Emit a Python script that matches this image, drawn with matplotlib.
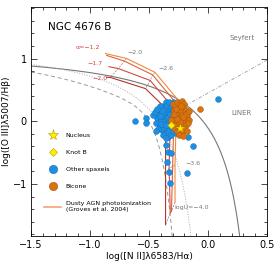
import numpy as np
import matplotlib

matplotlib.use("Agg")
import matplotlib.pyplot as plt
from matplotlib.lines import Line2D
from matplotlib.ticker import MultipleLocator

# ---------- data ---------- #
other_x = [-0.43, -0.44, -0.42, -0.41, -0.40, -0.40, -0.39, -0.38, -0.38, -0.37,
           -0.37, -0.36, -0.36, -0.35, -0.35, -0.34, -0.34, -0.33, -0.33, -0.32,
           -0.32, -0.31, -0.31, -0.30, -0.30, -0.29, -0.29, -0.28, -0.27, -0.27,
           -0.41, -0.39, -0.37, -0.35, -0.33, -0.40, -0.42, -0.38, -0.36, -0.33,
           -0.31, -0.30, -0.28, -0.26, -0.34, -0.36, -0.39, -0.41, -0.32, -0.30,
           -0.53, -0.53, -0.62, 0.085, -0.17, -0.13, -0.36, -0.34, -0.31, -0.35,
           -0.33, -0.18, -0.32, -0.47, -0.25, -0.45, -0.44, -0.43]
other_y = [0.05, -0.02, 0.12, -0.08, 0.18, 0.02, -0.14, 0.08, 0.24, -0.04,
           -0.20, 0.14, 0.30, 0.03, -0.10, 0.20, -0.25, 0.09, -0.16, 0.26,
           -0.02, 0.16, -0.22, 0.05, 0.31, -0.10, 0.22, 0.12, 0.28, -0.18,
           0.25, 0.10, 0.20, 0.26, 0.00, -0.04, -0.12, -0.22, -0.27, 0.30,
           0.22, -0.15, 0.00, 0.20, 0.06, -0.06, 0.16, 0.08, 0.12, 0.18,
           0.05, -0.03, 0.00, 0.35, -0.25, -0.40, -0.38, -0.49, -0.51, -0.65,
           -0.81, -0.83, -0.98, 0.10, 0.29, 0.15, -0.15, 0.20]

bicone_x = [-0.30, -0.28, -0.26, -0.24, -0.22, -0.20, -0.29, -0.27, -0.25, -0.23,
            -0.21, -0.19, -0.17, -0.30, -0.28, -0.26, -0.24, -0.22, -0.20, -0.18,
            -0.16, -0.29, -0.27, -0.25, -0.23, -0.21, -0.19, -0.17, -0.28, -0.26,
            -0.24, -0.22, -0.20, -0.18, -0.25, -0.21, -0.29, -0.23, -0.19, -0.27,
            -0.16, -0.07, -0.31, -0.24, -0.21, -0.26]
bicone_y = [0.28, 0.24, 0.30, 0.27, 0.32, 0.28, 0.18, 0.14, 0.20, 0.16,
            0.22, 0.18, 0.14, 0.08, 0.04, 0.10, 0.06, 0.10, 0.04, 0.08,
            0.02, -0.02, -0.06, -0.02, -0.08, -0.02, -0.06, -0.03, -0.12, -0.16,
            -0.12, -0.18, -0.12, -0.15, -0.22, -0.24, 0.12, 0.24, 0.12, 0.20,
            0.17, 0.19, 0.02, 0.00, 0.06, 0.04]

nucleus = (-0.24, -0.11)
knot_b = (-0.31, -0.06)

# Groves et al. 2004 dusty AGN grid (one line per power-law index)
alphas = ["−1.2", "−1.4", "−1.7", "−2.0"]
grid_x = [
    [-0.87, -0.69, -0.45, -0.25, -0.27, -0.28, -0.28],
    [-0.86, -0.71, -0.47, -0.28, -0.29, -0.30, -0.31],
    [-0.84, -0.76, -0.49, -0.32, -0.32, -0.33, -0.32],
    [-0.86, -0.83, -0.53, -0.36, -0.36, -0.36, -0.36],
]
grid_y = [
    [1.08, 1.00, 0.78, 0.33, 0.05, -0.70, -1.29],
    [1.05, 0.96, 0.74, 0.31, 0.04, -0.72, -1.44],
    [0.87, 0.84, 0.65, 0.27, 0.02, -0.75, -1.46],
    [0.70, 0.70, 0.52, 0.21, -0.02, -0.85, -1.65],
]
grid_colors = ["#f08a3c", "#e0603c", "#d24a3c", "#b8322c"]

# ---------- figure ---------- #
fig = plt.figure(figsize=(2.75, 2.62), dpi=100)
ax = fig.add_axes([0.113, 0.099, 0.858, 0.874])

# classification lines
x1 = np.linspace(-1.5, 0.46, 400)
ax.plot(x1, 0.61 / (x1 - 0.47) + 1.19, color="#777777", lw=0.8)  # Kewley 2001
x2 = np.linspace(-1.5, 0.04, 400)
ax.plot(x2, 0.61 / (x2 - 0.05) + 1.3, color="#aaaaaa", lw=0.7, ls=":")  # Kauffmann 2003
x3 = np.linspace(-1.5, -0.05, 400)
y3 = (-30.787 + 1.1358 * x3 + 0.27297 * x3 ** 2) * np.tanh(5.7409 * x3) - 31.093
ax.plot(x3, y3, color="#999999", lw=0.7, ls=(0, (4, 3)))  # Stasinska 2006
x4 = np.linspace(-0.19, 0.5, 50)
ax.plot(x4, 1.05 * x4 + 0.45, color="#999999", lw=0.6, ls=(0, (4, 2, 1, 2)))  # Schawinski 2007

# model grid
gx = np.array(grid_x)
gy = np.array(grid_y)
for j in range(1, gx.shape[1]):
    ax.plot(gx[:, j], gy[:, j], color="#888888", lw=0.5, ls=(0, (3, 1.5)), zorder=2)
for i in range(len(alphas)):
    ax.plot(gx[i], gy[i], color=grid_colors[i], lw=0.8, zorder=2)

# spaxels
ax.scatter(other_x, other_y, s=18, c="#1e8fe0", edgecolors="#1670b8",
           linewidths=0.3, zorder=3)
ax.scatter(bicone_x, bicone_y, s=18, c="#d9730f", edgecolors="#a8560a",
           linewidths=0.3, zorder=4)
ax.scatter(*knot_b, marker="D", s=14, c="#ffee00", edgecolors="#b0a000",
           linewidths=0.3, zorder=5)
ax.scatter(*nucleus, marker="*", s=45, c="#ffee00", edgecolors="#b0a000",
           linewidths=0.3, zorder=5)

# labels on the grid
red = "#d0453a"
gray = "#777777"
ax.text(-1.02, 1.17, "α=−1.2", color=red, fontsize=4.5, ha="center", va="center")
ax.text(-0.96, 0.92, "−1.7", color=red, fontsize=4.5, ha="center", va="center")
ax.text(-0.92, 0.68, "−2.0", color=red, fontsize=4.5, ha="center", va="center")
ax.text(-0.62, 1.1, "−2.0", color=gray, fontsize=4.5, ha="center", va="center")
ax.text(-0.36, 0.84, "−2.6", color=gray, fontsize=4.5, ha="center", va="center")
ax.text(-0.13, -0.67, "−3.6", color=gray, fontsize=4.5, ha="center", va="center")
ax.text(-0.14, -1.38, "logU=−4.0", color=gray, fontsize=4.5, ha="center", va="center")
ax.text(0.29, 1.33, "Seyfert", color=gray, fontsize=5, ha="center", va="center")
ax.text(0.28, 0.13, "LINER", color=gray, fontsize=5, ha="center", va="center")
ax.text(-1.36, 1.51, "NGC 4676 B", fontsize=7.5, ha="left", va="center")

# legend
handles = [
    Line2D([], [], ls="none", marker="*", ms=8, mfc="#ffee00", mec="#b0a000", mew=0.4),
    Line2D([], [], ls="none", marker="D", ms=4, mfc="#ffee00", mec="#b0a000", mew=0.4),
    Line2D([], [], ls="none", marker="o", ms=6, mfc="#1e8fe0", mec="#1670b8", mew=0.4),
    Line2D([], [], ls="none", marker="o", ms=6, mfc="#d9730f", mec="#a8560a", mew=0.4),
    Line2D([], [], color="#f4a27a", lw=1.2),
]
labels = ["Nucleus", "Knot B", "Other spaxels", "Bicone",
          "Dusty AGN photoionization\n(Groves et al. 2004)"]
ax.legend(handles, labels, loc="lower left", bbox_to_anchor=(0.03, 0.08),
          frameon=False, fontsize=4.5, labelspacing=1.9, handlelength=2.8,
          handletextpad=0.7)

# axes
ax.set_xlim(-1.5, 0.5)
ax.set_ylim(-1.83, 1.82)
ax.xaxis.set_major_locator(MultipleLocator(0.5))
ax.xaxis.set_minor_locator(MultipleLocator(0.1))
ax.yaxis.set_major_locator(MultipleLocator(1))
ax.yaxis.set_minor_locator(MultipleLocator(0.2))
ax.xaxis.set_major_formatter(plt.FuncFormatter(lambda v, p: f"{v:.1f}".replace("-", "−")))
ax.tick_params(which="both", direction="in", top=True, right=True, labelsize=7,
               width=0.5, pad=3)
ax.tick_params(which="major", length=4)
ax.tick_params(which="minor", length=2)
for s in ax.spines.values():
    s.set_linewidth(0.6)
ax.set_xlabel("log([N II]λ6583/Hα)", fontsize=6.5, labelpad=1)
ax.set_ylabel("log([O III]λ5007/Hβ)", fontsize=6.5, labelpad=1)

fig.savefig("out.png", dpi=100)
